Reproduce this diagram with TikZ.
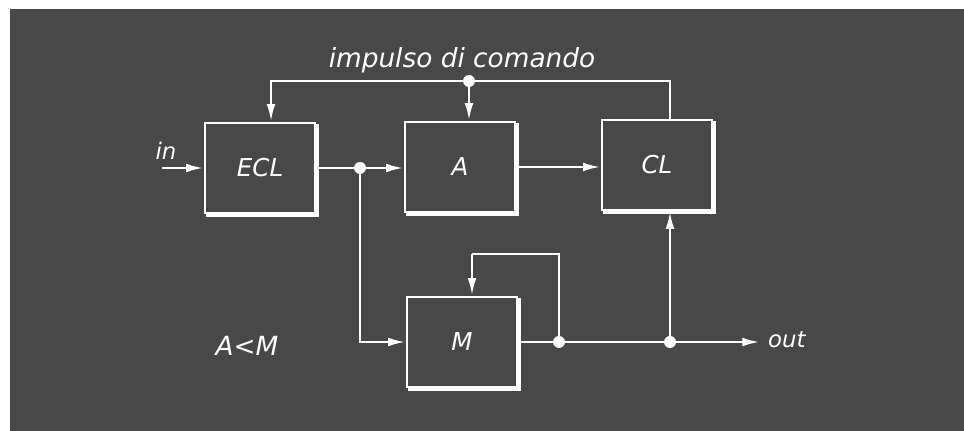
\documentclass[tikz,border=0pt]{standalone}
\usepackage{fontspec}
\setmainfont{DejaVu Sans}
\usetikzlibrary{arrows.meta,shadows}
\definecolor{hintergrund}{RGB}{72,72,72}
\tikzset{
  block/.style={draw=white, fill=hintergrund, line width=1.5pt,
    minimum width=2.2cm, minimum height=1.8cm, inner sep=0pt,
    text=white, font=\fontsize{14}{16}\selectfont\itshape,
    copy shadow={shadow xshift=0.05cm, shadow yshift=-0.05cm,
      draw=white, fill=hintergrund, line width=1.5pt}},
  punkt/.style={circle, fill=white, inner sep=0pt, minimum size=0.24cm},
  linie/.style={draw=white, line width=1.5pt},
  pfeil/.style={linie, -{Latex[length=10pt,width=5pt]}},
  schrift/.style={text=white, font=\fontsize{15}{18}\selectfont\itshape},
  klein/.style={text=white, font=\fontsize{13}{16}\selectfont\itshape}
}
\begin{document}
\begin{tikzpicture}[x=0.02cm, y=-0.02cm]
			% Hintergrund
			\useasboundingbox (0,0) rectangle (964,431);
			\fill[white] (0,0) rectangle (964,431);
			\fill[hintergrund] (10,9) rectangle (964,431);
			
			% Bloecke
			\node[block] (ecl) at (260,168) {ECL};
			\node[block] (a) at (460,167) {A};
			\node[block] (cl) at (657,165) {CL};
			\node[block] (m) at (462,342) {M};
			
			% Verzweigungen
			\node[punkt] (j1) at (469,81) {};
			\node[punkt] (j2) at (360,168) {};
			\node[punkt] (j3) at (559,342) {};
			\node[punkt] (j4) at (670,342) {};
			\coordinate (ein) at (162,168);
			\coordinate (aus) at (760,342);
			\coordinate (rueck) at (472,254);
			
			% Beschriftungen
			\node[schrift] (impuls) at (462,60) {impulso di comando};
			\node[klein] (in) at (166,151) {in};
			\node[klein, anchor=west] (out) at (762,340) {out};
			\node[schrift] (bed) at (247,346) {A<M};
			
			% Steuerimpuls
			\draw[linie] (j1) -| (j4 |- cl.north);
			\draw[pfeil] (j1) -| ([xshift=0.22cm]ecl.north);
			\draw[pfeil] (j1) -- (j1 |- a.north);
			
			% Signalweg
			\draw[pfeil] (ein) -- (ecl.west);
			\draw[linie] (ecl.east) -- (j2);
			\draw[pfeil] (j2) -- (j2 -| a.west);
			\draw[pfeil] (j2) |- (m.west);
			\draw[pfeil] (a.east) -- (a.east -| cl.west);
			\draw[linie] (m.east) -- (j3) -- (j4);
			\draw[pfeil] (j4) -- (aus);
			\draw[pfeil] (j4) -- (j4 |- cl.south);
			
			% Rueckkopplung
			\draw[linie] (j3) |- (rueck);
			\draw[pfeil] (rueck) -- (rueck |- m.north);
			
\end{tikzpicture}
\end{document}
